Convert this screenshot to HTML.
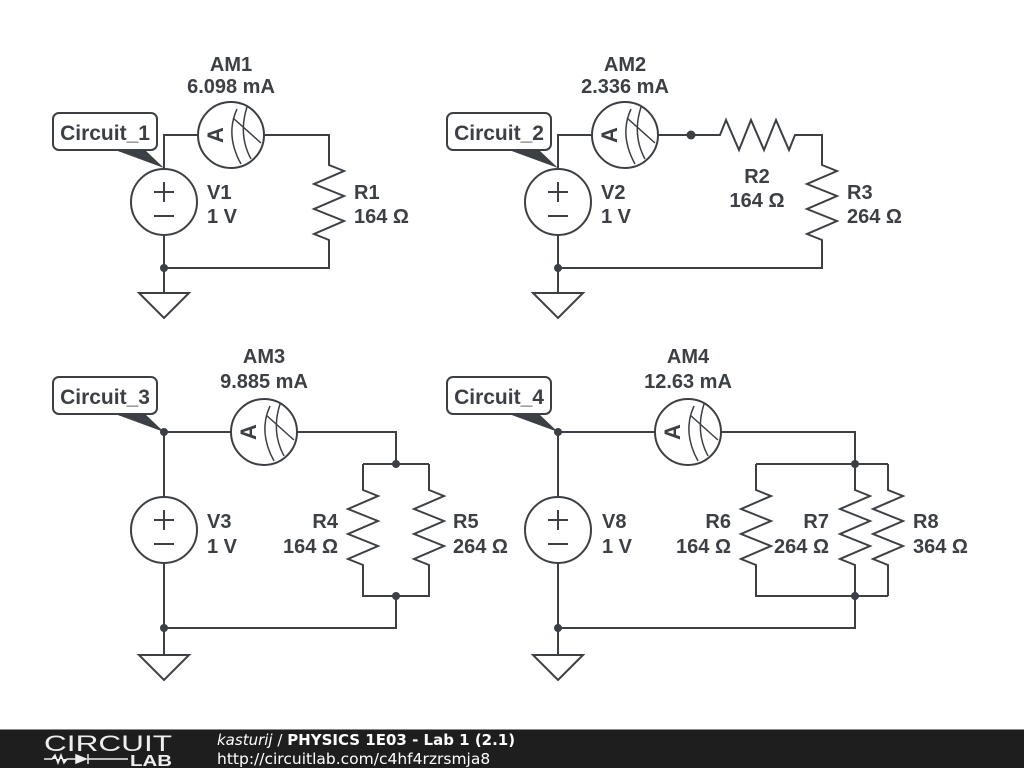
<!DOCTYPE html>
<html><head><meta charset="utf-8"><style>
html,body{margin:0;padding:0;background:#fff;}
svg{display:block;}
text{font-family:"Liberation Sans",Arial,sans-serif;font-weight:bold;fill:#3c4044;font-size:20px;}
</style></head><body>
<svg width="1024" height="768" viewBox="0 0 1024 768" xmlns="http://www.w3.org/2000/svg">
<defs>
<g id="am">
<circle cx="0" cy="0" r="33" fill="#fff" stroke="#3c4044" stroke-width="2"/>
<text x="0" y="0" transform="translate(-8,0) rotate(-90)" text-anchor="middle" style="font-size:22px">A</text>
<path d="M6,-26 Q-6,0 10,29 M16,-28 Q7,0 20,24 M2,-17 L30,8" fill="none" stroke="#3c4044" stroke-width="1.5"/>
</g>
<g id="vs">
<circle cx="0" cy="0" r="33" fill="#fff" stroke="#3c4044" stroke-width="2"/>
<path d="M-10,-10 H10 M0,-20 V0 M-10,14 H10" stroke="#3c4044" stroke-width="2"/>
</g>
</defs>
<g fill="none" stroke="#3c4044" stroke-width="2">
<path d="M164,169 V135 H198 M264,135 H329 V165 L344,171 L314,184 L344,196 L314,209 L344,221 L314,234 L329,240 V268 H164 V235 M164,268 V293"/>
<path d="M139,293 H189 L164,318 Z"/>
<path d="M558,169 V135 H592 M658,135 H720 L726,120 L739,150 L751,120 L764,150 L776,120 L789,150 L795,135 H822 V165 L837,171 L807,184 L837,196 L807,209 L837,221 L807,234 L822,240 V268 H558 V235 M558,268 V293"/>
<path d="M533,293 H583 L558,318 Z"/>
<path d="M164,497 V432 H231 M297,432 H396 V464 M363,464 H429 M363,464 V490 L378,496 L348,509 L378,521 L348,534 L378,546 L348,559 L363,565 V596 H429 V565 L414,559 L444,546 L414,534 L444,521 L414,509 L444,496 L429,490 V464 M396,596 V628 H164 V563 M164,628 V655"/>
<path d="M139,655 H189 L164,680 Z"/>
<path d="M558,497 V432 H655 M721,432 H855 V464 M756,464 H888 M756,464 V490 L771,496 L741,509 L771,521 L741,534 L771,546 L741,559 L756,565 V596 H888 M855,464 V490 L870,496 L840,509 L870,521 L840,534 L870,546 L840,559 L855,565 V596 M888,464 V490 L903,496 L873,509 L903,521 L873,534 L903,546 L873,559 L888,565 V596 M855,596 V628 H558 V563 M558,628 V655"/>
<path d="M533,655 H583 L558,680 Z"/>
</g>
<g fill="#3c4044">
<circle cx="164" cy="268" r="4"/><circle cx="558" cy="268" r="4"/><circle cx="691" cy="135" r="4.5"/>
<circle cx="164" cy="432" r="4"/><circle cx="396" cy="464" r="4"/><circle cx="396" cy="596" r="4"/><circle cx="164" cy="628" r="4"/>
<circle cx="558" cy="432" r="4"/><circle cx="855" cy="464" r="4"/><circle cx="855" cy="596" r="4"/><circle cx="558" cy="628" r="4"/>
</g>
<use href="#vs" x="164" y="202"/><use href="#vs" x="558" y="202"/><use href="#vs" x="164" y="530"/><use href="#vs" x="558" y="530"/>
<use href="#am" x="231" y="135"/><use href="#am" x="625" y="135"/><use href="#am" x="264" y="432"/><use href="#am" x="688" y="432"/>
<g>
<path d="M115,150 L145,150 L164,168 Z" fill="#3c4044"/>
<rect x="53" y="113" width="104" height="37" rx="6" fill="#fff" stroke="#3c4044" stroke-width="2"/>
<text x="105" y="140" text-anchor="middle" style="font-size:21px">Circuit_1</text>
<path d="M509,150 L539,150 L558,168 Z" fill="#3c4044"/>
<rect x="447" y="113" width="104" height="37" rx="6" fill="#fff" stroke="#3c4044" stroke-width="2"/>
<text x="499" y="140" text-anchor="middle" style="font-size:21px">Circuit_2</text>
<path d="M115,414 L145,414 L164,432 Z" fill="#3c4044"/>
<rect x="53" y="377" width="104" height="37" rx="6" fill="#fff" stroke="#3c4044" stroke-width="2"/>
<text x="105" y="404" text-anchor="middle" style="font-size:21px">Circuit_3</text>
<path d="M509,414 L539,414 L558,432 Z" fill="#3c4044"/>
<rect x="447" y="377" width="104" height="37" rx="6" fill="#fff" stroke="#3c4044" stroke-width="2"/>
<text x="499" y="404" text-anchor="middle" style="font-size:21px">Circuit_4</text>
</g>
<text x="231" y="71" text-anchor="middle">AM1</text><text x="231" y="93" text-anchor="middle">6.098 mA</text>
<text x="207" y="199">V1</text><text x="207" y="223">1 V</text>
<text x="354" y="199">R1</text><text x="354" y="223">164 Ω</text>
<text x="625" y="71" text-anchor="middle">AM2</text><text x="625" y="93" text-anchor="middle">2.336 mA</text>
<text x="601" y="199">V2</text><text x="601" y="223">1 V</text>
<text x="757" y="183" text-anchor="middle">R2</text><text x="757" y="207" text-anchor="middle">164 Ω</text>
<text x="847" y="199">R3</text><text x="847" y="223">264 Ω</text>
<text x="264" y="363" text-anchor="middle">AM3</text><text x="264" y="388" text-anchor="middle">9.885 mA</text>
<text x="207" y="528">V3</text><text x="207" y="553">1 V</text>
<text x="338" y="528" text-anchor="end">R4</text><text x="338" y="553" text-anchor="end">164 Ω</text>
<text x="453" y="528">R5</text><text x="453" y="553">264 Ω</text>
<text x="688" y="363" text-anchor="middle">AM4</text><text x="688" y="388" text-anchor="middle">12.63 mA</text>
<text x="602" y="528">V8</text><text x="602" y="553">1 V</text>
<text x="731" y="528" text-anchor="end">R6</text><text x="731" y="553" text-anchor="end">164 Ω</text>
<text x="829" y="528" text-anchor="end">R7</text><text x="829" y="553" text-anchor="end">264 Ω</text>
<text x="913" y="528">R8</text><text x="913" y="553">364 Ω</text>
<rect x="0" y="729" width="1024" height="39" fill="#1e1e1e"/>
<rect x="0" y="729" width="1024" height="1" fill="#888"/>
<text x="44" y="751" textLength="128" lengthAdjust="spacingAndGlyphs" style="font-weight:normal;font-size:22px;fill:#eee">CIRCUIT</text>
<path d="M44,759 H52 L55,755 L58,763 L61,755 L64,763 L67,759 H76 M76,755 V763 L86,759 Z M88,754 V764 M88,759 H128" stroke="#eee" stroke-width="1.5" fill="#eee"/>
<text x="130" y="766" textLength="42" lengthAdjust="spacingAndGlyphs" style="font-size:16px;fill:#eee">LAB</text>
<text x="217" y="745" style="font-family:'DejaVu Sans',sans-serif;font-size:15px;fill:#fff;font-weight:normal"><tspan font-style="italic">kasturij</tspan> / <tspan font-weight="bold">PHYSICS 1E03 - Lab 1 (2.1)</tspan></text>
<text x="217" y="764" style="font-family:'DejaVu Sans',sans-serif;font-size:15.5px;fill:#fff;font-weight:normal">http://circuitlab.com/c4hf4rzrsmja8</text>
</svg>
</body></html>
